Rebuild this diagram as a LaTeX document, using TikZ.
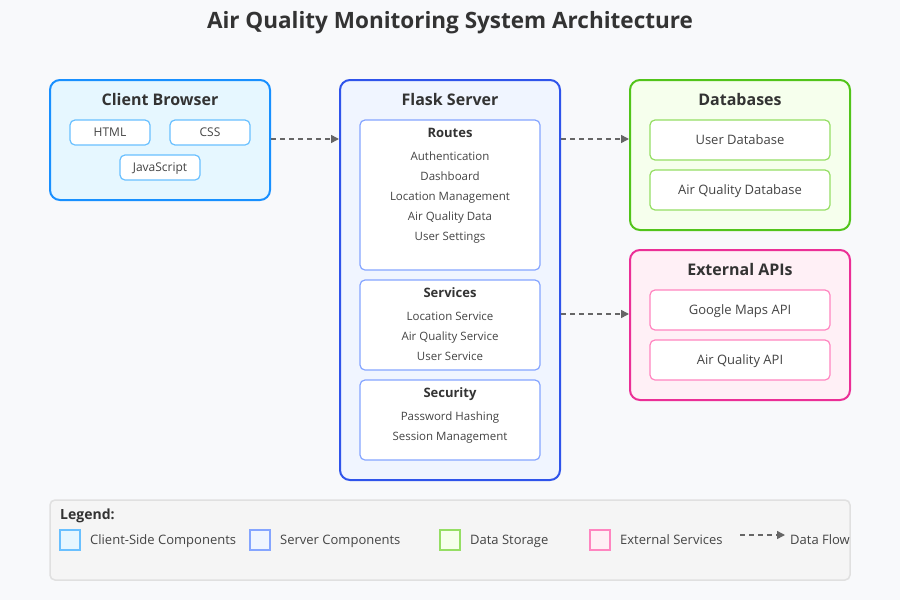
\documentclass[tikz,border=0pt]{standalone}
\usepackage{fontspec}
\setmainfont{Open Sans}
\usepackage{tikz}
\usetikzlibrary{positioning,arrows.meta}
\definecolor{bgcol}{HTML}{F8F9FB}
\definecolor{inkcol}{HTML}{333333}
\definecolor{txtcol}{HTML}{444444}
\definecolor{clientfill}{HTML}{E6F7FF}
\definecolor{clientline}{HTML}{1890FF}
\definecolor{clientsub}{HTML}{69C0FF}
\definecolor{serverfill}{HTML}{F0F5FF}
\definecolor{serverline}{HTML}{2F54EB}
\definecolor{serversub}{HTML}{85A5FF}
\definecolor{datafill}{HTML}{F6FFED}
\definecolor{dataline}{HTML}{52C41A}
\definecolor{datasub}{HTML}{95DE64}
\definecolor{extfill}{HTML}{FFF0F6}
\definecolor{extline}{HTML}{EB2F96}
\definecolor{extsub}{HTML}{FF85C0}
\definecolor{legfill}{HTML}{F5F5F5}
\definecolor{legline}{HTML}{E0E0E0}
\definecolor{flowcol}{HTML}{666666}
\tikzset{group/.style={rectangle,rounded corners=10pt,line width=2pt,inner sep=0pt}}
\tikzset{part/.style={rectangle,rounded corners=5pt,line width=1.2pt,fill=white,inner sep=0pt,text height=10pt,text depth=1.5pt,font=\fontsize{12}{14}\selectfont,text=txtcol}}
\tikzset{head/.style={text height=14pt,text depth=1pt,font=\bfseries\fontsize{16}{19}\selectfont,text=inkcol}}
\tikzset{subhead/.style={text height=11.5pt,text depth=1pt,font=\bfseries\fontsize{13}{15}\selectfont,text=inkcol}}
\tikzset{item/.style={text height=10.5pt,text depth=1pt,font=\fontsize{11.5}{14}\selectfont,text=txtcol}}
\tikzset{flow/.style={-{Triangle[length=8pt,width=8pt]},dash pattern=on 5pt off 4pt,line width=1.5pt,draw=flowcol}}
\tikzset{swatch/.style={rectangle,minimum size=20pt,line width=1.5pt,inner sep=0pt}}
\tikzset{legtext/.style={anchor=west,text height=11pt,text depth=1.5pt,font=\fontsize{13}{15}\selectfont,text=txtcol}}

\begin{document}
\begin{tikzpicture}[x=1pt,y=-1pt]
  \fill[bgcol] (0,0) rectangle (900,600);
  \useasboundingbox (0,0) rectangle (900,600);
  \node[font=\bfseries\fontsize{22.5}{27}\selectfont,text=inkcol] (title) at (450,23) {Air Quality Monitoring System Architecture};

  % client side
  \node[group,fill=clientfill,draw=clientline,minimum width=220pt,minimum height=120pt] (client) at (160,140) {};
  \node[head] (clienthd) at (160,99) {Client Browser};
  \node[part,draw=clientsub,minimum width=80pt,minimum height=25pt] (html) at (110,132.5) {HTML};
  \node[part,draw=clientsub,minimum width=80pt,minimum height=25pt] (css) at (210,132.5) {CSS};
  \node[part,draw=clientsub,minimum width=80pt,minimum height=25pt] (js) at (160,167.5) {JavaScript};

  % server
  \node[group,fill=serverfill,draw=serverline,minimum width=220pt,minimum height=400pt] (flask) at (450,280) {};
  \node[head] (flaskhd) at (450,99) {Flask Server};
  \node[part,draw=serversub,minimum width=180pt,minimum height=150pt] (routes) at (450,195) {};
  \node[subhead] (routeshd) at (450,132) {Routes};
  \foreach \t [count=\i] in {Authentication,Dashboard,Location Management,Air Quality Data,User Settings}
    \node[item] (route\i) at (450,136+20*\i) {\t};
  \node[part,draw=serversub,minimum width=180pt,minimum height=90pt] (services) at (450,325) {};
  \node[subhead] (serviceshd) at (450,292) {Services};
  \foreach \t [count=\i] in {Location Service,Air Quality Service,User Service}
    \node[item] (service\i) at (450,296+20*\i) {\t};
  \node[part,draw=serversub,minimum width=180pt,minimum height=80pt] (security) at (450,420) {};
  \node[subhead] (securityhd) at (450,392) {Security};
  \foreach \t [count=\i] in {Password Hashing,Session Management}
    \node[item] (secure\i) at (450,396+20*\i) {\t};

  % storage and apis
  \node[group,fill=datafill,draw=dataline,minimum width=220pt,minimum height=150pt] (dbs) at (740,155) {};
  \node[head] (dbshd) at (740,99) {Databases};
  \node[part,draw=datasub,minimum width=180pt,minimum height=40pt,font=\fontsize{13}{15}\selectfont] (userdb) at (740,140) {User Database};
  \node[part,draw=datasub,minimum width=180pt,minimum height=40pt,font=\fontsize{13}{15}\selectfont] (aqdb) at (740,190) {Air Quality Database};
  \node[group,fill=extfill,draw=extline,minimum width=220pt,minimum height=150pt] (apis) at (740,325) {};
  \node[head] (apishd) at (740,269) {External APIs};
  \node[part,draw=extsub,minimum width=180pt,minimum height=40pt,font=\fontsize{13}{15}\selectfont] (maps) at (740,310) {Google Maps API};
  \node[part,draw=extsub,minimum width=180pt,minimum height=40pt,font=\fontsize{13}{15}\selectfont] (aqapi) at (740,360) {Air Quality API};

  % data flow
  \coordinate (apisin) at ([yshift=-65pt]apis.north west);
  \draw[flow] ([yshift=-60pt]client.north east) -- ([yshift=-60pt]flask.north west);
  \draw[flow] ([yshift=-60pt]flask.north east) -- ([yshift=-60pt]dbs.north west);
  \draw[flow] (flask.east |- apisin) -- (apisin);

  % legend
  \node[rectangle,rounded corners=5pt,fill=legfill,draw=legline,line width=1.5pt,minimum width=800pt,minimum height=80pt] (legend) at (450,540) {};
  \node[anchor=west,font=\bfseries\fontsize{14}{17}\selectfont,text=inkcol,inner sep=0pt] (leghd) at (60,516) {Legend:};
  \foreach \x/\f/\d/\t in {60/clientfill/clientsub/Client-Side Components,250/serverfill/serversub/Server Components,440/datafill/datasub/Data Storage,590/extfill/extsub/External Services}
  {
    \node[swatch,fill=\f,draw=\d] (sw\x) at (\x+10,540) {};
    \node[legtext,inner sep=0pt] (lt\x) at (\x+30,540) {\t};
  }
  \coordinate (flowa) at (740,535);
  \coordinate (flowb) at (785,535);
  \draw[flow] (flowa) -- (flowb);
  \node[legtext,inner sep=0pt] (ltflow) at (790,540) {Data Flow};
\end{tikzpicture}
\end{document}
